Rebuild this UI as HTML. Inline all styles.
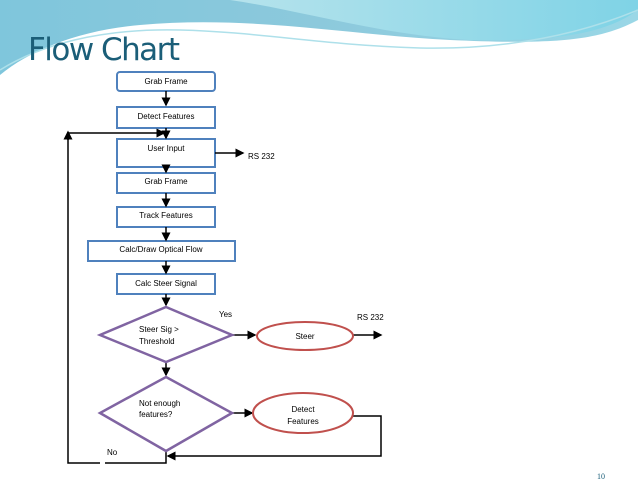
<!DOCTYPE html>
<html><head><style>body{margin:0;width:638px;height:493px;overflow:hidden;background:#fff}</style></head><body>
<svg width="638" height="493" viewBox="0 0 638 493" xmlns="http://www.w3.org/2000/svg" font-family="Liberation Sans, sans-serif">
<defs>
<linearGradient id="g1" x1="0" y1="0" x2="1" y2="0"><stop offset="0" stop-color="#7fc6dc"/><stop offset="0.5" stop-color="#8cc9dc"/><stop offset="1" stop-color="#9ad7e6"/></linearGradient>
<linearGradient id="g2" x1="0" y1="0" x2="1" y2="0"><stop offset="0" stop-color="#b6e3ec"/><stop offset="1" stop-color="#7fd3e6"/></linearGradient>
<marker id="a" markerWidth="6" markerHeight="6" refX="5" refY="3" orient="auto"><path d="M0,0L6,3L0,6z" fill="#000"/></marker>
</defs>
<path d="M0,0H638V20C600,40 560,45 450,40 C350,35 250,15 140,25 C80,30 30,50 0,75Z" fill="url(#g1)"/>
<path d="M230,0H638V10C610,30 570,42 470,40 C380,35 300,10 230,0Z" fill="url(#g2)"/>
<path d="M0,70C40,45 100,28 180,30 C260,32 320,45 420,48 C520,50 590,30 638,10" fill="none" stroke="#aee0ea" stroke-width="1.5"/>
<text x="28" y="60" font-size="31" fill="#1b5e78" font-family="DejaVu Sans, sans-serif" textLength="152">Flow Chart</text>
<g fill="#fff" stroke="#4f81bd" stroke-width="2">
<rect x="117" y="72" width="98" height="19" rx="3"/>
<rect x="117" y="107" width="98" height="21"/>
<rect x="117" y="139" width="98" height="28"/>
<rect x="117" y="173" width="98" height="20"/>
<rect x="117" y="207" width="98" height="20"/>
<rect x="88" y="241" width="147" height="20"/>
<rect x="117" y="274" width="98" height="20"/>
</g>
<g font-size="8" text-anchor="middle" fill="#000">
<text x="166" y="84">Grab Frame</text>
<text x="166" y="119">Detect Features</text>
<text x="166" y="151">User Input</text>
<text x="166" y="184">Grab Frame</text>
<text x="166" y="218">Track Features</text>
<text x="161" y="252">Calc/Draw Optical Flow</text>
<text x="166" y="286">Calc Steer Signal</text>
</g>
<g stroke="#000" stroke-width="1.5" fill="none">
<line x1="166" y1="91" x2="166" y2="105" marker-end="url(#a)"/>
<line x1="166" y1="128" x2="166" y2="138" marker-end="url(#a)"/>
<line x1="166" y1="167" x2="166" y2="172" marker-end="url(#a)"/>
<line x1="166" y1="193" x2="166" y2="206" marker-end="url(#a)"/>
<line x1="166" y1="227" x2="166" y2="240" marker-end="url(#a)"/>
<line x1="166" y1="261" x2="166" y2="273" marker-end="url(#a)"/>
<line x1="166" y1="294" x2="166" y2="305" marker-end="url(#a)"/>
<line x1="166" y1="362" x2="166" y2="375" marker-end="url(#a)"/>
<line x1="215" y1="153" x2="243" y2="153" marker-end="url(#a)"/>
<line x1="232" y1="335" x2="255" y2="335" marker-end="url(#a)"/>
<line x1="353" y1="335" x2="381" y2="335" marker-end="url(#a)"/>
<line x1="232" y1="413" x2="252" y2="413" marker-end="url(#a)"/>
<path d="M353,416H381V456H168" marker-end="url(#a)"/>
<path d="M166,452V463H105M100,463H68V133" />
<path d="M68,133H164" marker-end="url(#a)"/>
<line x1="68" y1="140" x2="68" y2="132" marker-end="url(#a)"/>
</g>
<g fill="#fff" stroke="#8064a2" stroke-width="2.5">
<polygon points="166,307 232,335 166,362 100,335"/>
<polygon points="166,377 232,413 166,451 100,413"/>
</g>
<g fill="none" stroke="#fff" stroke-width="0.8">
<polygon points="166,311 224,335 166,358 108,335"/>
<polygon points="166,381 224,413 166,447 108,413"/>
</g>
<ellipse cx="305" cy="336" rx="48" ry="14" fill="#fff" stroke="#c0504d" stroke-width="2"/>
<ellipse cx="303" cy="413" rx="50" ry="20" fill="#fff" stroke="#c0504d" stroke-width="2"/>
<g font-size="8" fill="#000">
<text x="139" y="332">Steer Sig &gt;</text>
<text x="139" y="344">Threshold</text>
<text x="139" y="406">Not enough</text>
<text x="139" y="417">features?</text>
<text x="305" y="339" text-anchor="middle">Steer</text>
<text x="303" y="412" text-anchor="middle">Detect</text>
<text x="303" y="424" text-anchor="middle">Features</text>
<text x="248" y="159">RS 232</text>
<text x="219" y="317">Yes</text>
<text x="357" y="320">RS 232</text>
<text x="107" y="455">No</text>
</g>
<text x="597" y="479" font-size="8" fill="#1b5e78" font-family="Liberation Serif, serif">10</text>
</svg>
</body></html>
